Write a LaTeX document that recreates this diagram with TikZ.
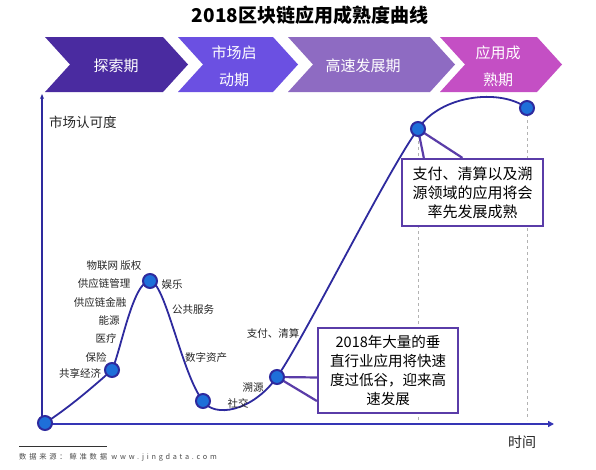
\documentclass[tikz,border=0pt]{standalone}
\usepackage{fontspec}
\setmainfont{Noto Sans CJK SC}
\newfontfamily\footfont[LetterSpace=38]{Noto Sans CJK SC}
\usetikzlibrary{calc,arrows.meta}
\definecolor{chA}{HTML}{4A2BA0}
\definecolor{chB}{HTML}{6B50E2}
\definecolor{chC}{HTML}{8E6BC2}
\definecolor{chD}{HTML}{C44FC4}
\definecolor{navy}{HTML}{2E2A9E}
\definecolor{axisblue}{HTML}{3535B5}
\definecolor{dotfill}{HTML}{1E6FD9}
\definecolor{boxpurple}{HTML}{5A3CA8}
\tikzset{
  chevtext/.style={text=white, font=\fontsize{15}{27}\selectfont, align=center, inner sep=0},
  lbl/.style={font=\fontsize{10.5}{10.5}\selectfont, text=black!85, inner sep=0},
  curveline/.style={navy, line width=1.8pt},
  dot/.style={circle, minimum size=14pt, inner sep=0, fill=dotfill, draw=navy, line width=2pt},
  callout/.style={draw=boxpurple, line width=2.2pt, fill=white, align=center, inner sep=0},
  pointer/.style={boxpurple, line width=2.2pt},
  guide/.style={gray!60, dashed, line width=0.7pt}
}
\begin{document}
\begin{tikzpicture}[x=1pt,y=-1pt]
\useasboundingbox (0,0) rectangle (596,469);
\fill[white] (0,0) rectangle (596,469);

% title
\node[font=\fontsize{19}{19}\selectfont\bfseries, text=black] (title) at (310,15) {2018区块链应用成熟度曲线};

% chevrons
\fill[chA] (45,37) -- (163,37) -- (188,64.5) -- (163,92) -- (45,92) -- (70,64.5) -- cycle;
\fill[chB] (178,37) -- (273,37) -- (298,64.5) -- (273,92) -- (178,92) -- (203,64.5) -- cycle;
\fill[chC] (288,37) -- (430,37) -- (455,64.5) -- (430,92) -- (288,92) -- (313,64.5) -- cycle;
\fill[chD] (440,37) -- (537,37) -- (562,64.5) -- (537,92) -- (440,92) -- (465,64.5) -- cycle;
\node[chevtext] (t1) at (116,66) {探索期};
\node[chevtext] (t2) at (234,66) {市场启\\动期};
\node[chevtext] (t3) at (363,66) {高速发展期};
\node[chevtext] (t4) at (498,66) {应用成\\熟期};

% curve points
\coordinate (p1) at (45,423);
\coordinate (p2) at (112,370);
\coordinate (p3) at (150,281);
\coordinate (p4) at (203,401);
\coordinate (p5) at (277,377);
\coordinate (p6) at (418,129);
\coordinate (p7) at (527,108);
\coordinate (o) at (42,424);
\coordinate (xend) at (554,424);
\coordinate (yend) at (42,94);
\coordinate (g6) at (418,420);
\coordinate (g7) at (527,420);

% guides
\draw[guide] (p6) -- (g6);
\draw[guide] (p7) -- (g7);

% axes
\draw[navy, line width=1.2pt, -{Stealth[length=5pt,width=4pt]}] (o) -- (yend);
\draw[axisblue, line width=2pt, -{Triangle[length=6pt,width=6pt]}] (o) -- (xend);
\node[font=\fontsize{13.5}{13.5}\selectfont, text=black!85, anchor=west, inner sep=0] (ylab) at (49,122) {市场认可度};
\node[font=\fontsize{14}{14}\selectfont, text=black!85, inner sep=0] (xlab) at (522,442) {时间};

% curve
\draw[curveline] (p1) .. controls (70,407) and (95,385) .. (p2)
  .. controls (121,350) and (133,281) .. (p3)
  .. controls (165,281) and (182,375) .. (p4)
  .. controls (214,418) and (252,412) .. (p5)
  .. controls (305,337) and (385,175) .. (p6)
  .. controls (440,95) and (500,88) .. (p7);

% labels
\node[lbl] (l1) at (114,266) {物联网 版权};
\node[lbl] (l2) at (104,283) {供应链管理};
\node[lbl] (l3) at (172,285) {娱乐};
\node[lbl] (l4) at (100,302) {供应链金融};
\node[lbl] (l5) at (193,310) {公共服务};
\node[lbl] (l6) at (109,320) {能源};
\node[lbl] (l7) at (106,338) {医疗};
\node[lbl] (l8) at (96,357) {保险};
\node[lbl] (l9) at (80,373) {共享经济};
\node[lbl] (l10) at (206,358) {数字资产};
\node[lbl] (l11) at (238,403) {社交};
\node[lbl] (l12) at (253,388) {溯源};
\node[lbl] (l13) at (273,333) {支付、清算};

% callouts
\node[callout, minimum width=140pt, minimum height=85pt, font=\fontsize{14.5}{19}\selectfont] (box1) at (388,370.5) {2018年大量的垂\\直行业应用将快速\\度过低谷，迎来高\\速发展};
\node[callout, minimum width=141pt, minimum height=67pt, font=\fontsize{15}{19}\selectfont] (box2) at (472.5,192.5) {支付、清算以及溯\\源领域的应用将会\\率先发展成熟};
\draw[pointer] (p5) -- ($(box1.north west)!0.58!(box1.south west)$);
\draw[pointer] (p5) -- ($(box1.north west)!0.85!(box1.south west)$);
\draw[pointer] (p6) -- ($(box2.north west)!0.16!(box2.north east)$);
\draw[pointer] (p6) -- ($(box2.north west)!0.43!(box2.north east)$);

% dots
\node[dot] (c1) at (p1) {};
\node[dot] (c2) at (p2) {};
\node[dot] (c3) at (p3) {};
\node[dot] (c4) at (p4) {};
\node[dot] (c5) at (p5) {};
\node[dot] (c6) at (p6) {};
\node[dot] (c7) at (p7) {};

% footer
\coordinate (fa) at (19,446);
\coordinate (fb) at (107,446);
\draw[black!80, line width=0.6pt] (fa) -- (fb);
\node[anchor=west, inner sep=0, text=black!70, font=\footfont\fontsize{7.3}{7.3}\selectfont] (src) at (19,457) {数据来源：鲸准数据 www.jingdata.com};
\end{tikzpicture}
\end{document}
